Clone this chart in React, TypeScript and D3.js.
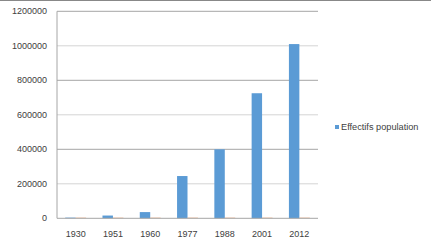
import React from "react";
import * as d3 from "d3";

const years = ["1930", "1951", "1960", "1977", "1988", "2001", "2012"];
const effectifs = [4000, 16000, 36000, 245000, 400000, 725000, 1010000];
const secondSeries = [4500, 4500, 4500, 4500, 4500, 4500, 4500];
const yTicks = [0, 200000, 400000, 600000, 800000, 1000000, 1200000];
const legendLabel = "Effectifs population";

const W = 431;
const H = 250;
const left = 57;
const right = 318;
const top = 11.3;
const bottom = 218.3;

export default function App() {
  const x = d3.scaleBand<string>().domain(years).range([left, right]).paddingInner(0).paddingOuter(0);
  const y = d3.scaleLinear().domain([0, 1200000]).range([bottom, top]);
  const bw = x.bandwidth();
  const barW = bw * 0.28;
  const groupOff = (bw - 2 * barW) / 2;
  const font = "'Liberation Sans', Arial, sans-serif";
  return (
    <svg width={W} height={H} style={{ position: "absolute", left: 0, top: 0, background: "#fff" }}>
      <rect x={0} y={0} width={W} height={H} fill="#fff" />
      <line x1={0} x2={W} y1={0.5} y2={0.5} stroke="#888" strokeWidth={1.2} />
      {yTicks.map((t, i) => (
        <g key={t}>
          {t !== 0 && (
            <line x1={left} x2={right} y1={y(t)} y2={y(t)} stroke={i % 2 === 0 ? "#a6a6a6" : "#d4d4d4"} strokeWidth={1} />
          )}
          <text x={47} y={y(t)} dy="0.35em" textAnchor="end" fontSize={9} fontFamily={font} fill="#404040">
            {t}
          </text>
        </g>
      ))}
      {years.map((yr, i) => (
        <g key={yr}>
          <rect x={x(yr)! + groupOff} y={y(effectifs[i])} width={barW} height={bottom - y(effectifs[i])} fill="#5B9BD5" />
          <rect x={x(yr)! + groupOff + barW} y={y(secondSeries[i])} width={barW} height={bottom - y(secondSeries[i])} fill="#ED7D31" opacity={0.45} />
          <text x={x(yr)! + bw / 2} y={237} textAnchor="middle" fontSize={9} fontFamily={font} fill="#404040">
            {yr}
          </text>
        </g>
      ))}
      <line x1={left} x2={left} y1={top} y2={bottom} stroke="#a6a6a6" strokeWidth={1} />
      <line x1={left} x2={right} y1={bottom} y2={bottom} stroke="#a6a6a6" strokeWidth={1} />
      <rect x={335} y={125} width={4} height={4} fill="#5B9BD5" />
      <text x={341} y={127} dy="0.35em" fontSize={9.2} fontFamily={font} fill="#404040">
        {legendLabel}
      </text>
    </svg>
  );
}
